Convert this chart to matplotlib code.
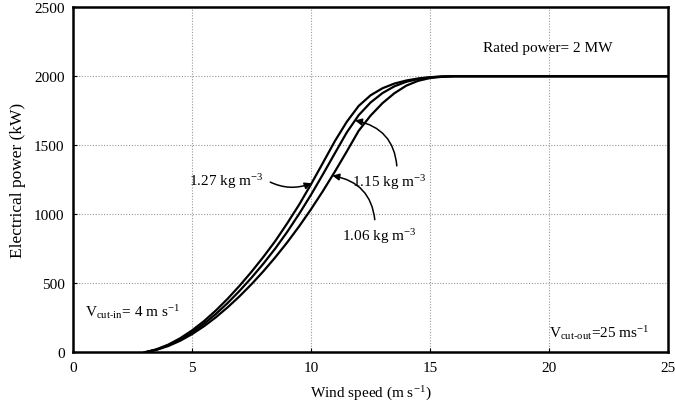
import numpy as np
import matplotlib
matplotlib.use("Agg")
from matplotlib import pyplot as plt

# wind speed (m/s) and power (kW) for three air densities
wind = [3, 3.5, 4, 4.5, 5, 5.5, 6, 6.5, 7, 7.5, 8, 8.5, 9, 9.5, 10, 10.5,
        11, 11.5, 12, 12.5, 13, 13.5, 14, 14.5, 15, 15.5, 16, 20, 25]
p_127 = [0, 22, 56, 102, 159, 226, 303, 389, 483, 584, 692, 807, 935, 1070,
         1218, 1373, 1530, 1670, 1785, 1862, 1913, 1947, 1969, 1984, 1993,
         1998, 2000, 2000, 2000]
p_115 = [0, 20, 51, 93, 145, 207, 278, 358, 446, 541, 643, 753, 873, 1003,
         1142, 1290, 1442, 1593, 1718, 1810, 1878, 1927, 1960, 1980, 1992,
         1998, 2000, 2000, 2000]
p_106 = [0, 18, 46, 84, 132, 189, 254, 327, 407, 494, 588, 689, 797, 913,
         1037, 1169, 1309, 1455, 1605, 1715, 1805, 1877, 1932, 1967, 1987,
         1996, 2000, 2000, 2000]

xticks = [0, 5, 10, 15, 20, 25]
yticks = [0, 500, 1000, 1500, 2000, 2500]

plt.rcParams['font.family'] = ['Liberation Serif', 'DejaVu Serif']
plt.rcParams['mathtext.fontset'] = 'stix'

fig = plt.figure(figsize=(6.75, 4.1), dpi=100)
ax = fig.add_axes([0.108, 0.138, 0.882, 0.842])

for p in (p_127, p_115, p_106):
    ax.plot(wind, p, color='black', lw=1.6, solid_capstyle='round')

ax.set_xlim(0, 25)
ax.set_ylim(0, 2500)
ax.set_xticks(xticks)
ax.set_yticks(yticks)
ax.grid(True, color='#999999', linestyle=(0, (1, 1.5)), lw=0.8)
ax.tick_params(direction='in', length=3, labelsize=11, pad=6)
for s in ax.spines.values():
    s.set_linewidth(1.8)

ax.set_xlabel(r'Wind speed (m s$^{\mathregular{-1}}$)', fontsize=11, labelpad=6)
ax.set_ylabel('Electrical power (kW)', fontsize=12.5, labelpad=6)

ax.text(19.95, 2210, 'Rated power= 2 MW', fontsize=11, ha='center', va='center')
ax.text(0.5, 300, r'V$_{\mathregular{cut\text{-}in}}$= 4 m s$^{\mathregular{-1}}$',
        fontsize=11, ha='left', va='center')
ax.text(24.2, 150, r'V$_{\mathregular{cut\text{-}out}}$=25 ms$^{\mathregular{-1}}$',
        fontsize=11, ha='right', va='center')

# arrow tips sit on the curves
tip_127 = (np.interp(1225, p_127, wind), 1225)
tip_115 = (np.interp(1680, p_115, wind), 1680)
tip_106 = (np.interp(1280, p_106, wind), 1280)

arrow = dict(arrowstyle='-|>', color='black', lw=1.1, mutation_scale=10)
ax.annotate(r'1.27 kg m$^{\mathregular{-3}}$', xy=tip_127, xytext=(6.45, 1245),
            fontsize=11, ha='center', va='center',
            arrowprops=dict(arrow, connectionstyle='arc3,rad=0.25',
                            relpos=(1, 0.6), shrinkA=3, shrinkB=0))
ax.annotate(r'1.15 kg m$^{\mathregular{-3}}$', xy=tip_115, xytext=(13.3, 1240),
            fontsize=11, ha='center', va='center',
            arrowprops=dict(arrow, connectionstyle='arc3,rad=0.4',
                            relpos=(0.6, 1), shrinkA=2, shrinkB=0))
ax.annotate(r'1.06 kg m$^{\mathregular{-3}}$', xy=tip_106, xytext=(12.85, 850),
            fontsize=11, ha='center', va='center',
            arrowprops=dict(arrow, connectionstyle='arc3,rad=0.4',
                            relpos=(0.45, 1), shrinkA=2, shrinkB=0))

fig.savefig('out.png', dpi=100)
